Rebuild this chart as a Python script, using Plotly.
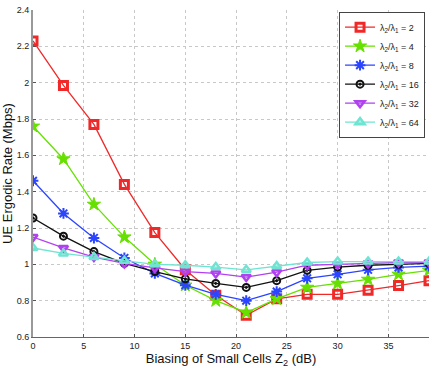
import plotly.graph_objects as go

# biasing values (dB)
z2 = [0, 3, 6, 9, 12, 15, 18, 21, 24, 27, 30, 33, 36, 39]

rate_l2 = [2.23, 1.985, 1.77, 1.44, 1.175, 0.97, 0.83, 0.72, 0.81, 0.835, 0.835, 0.857, 0.883, 0.91]
rate_l4 = [1.76, 1.58, 1.33, 1.15, 1.0, 0.885, 0.80, 0.735, 0.81, 0.873, 0.895, 0.917, 0.945, 0.967]
rate_l8 = [1.46, 1.28, 1.145, 1.035, 0.95, 0.885, 0.835, 0.80, 0.85, 0.923, 0.945, 0.97, 0.983, 0.99]
rate_l16 = [1.255, 1.155, 1.07, 1.005, 0.96, 0.92, 0.895, 0.873, 0.91, 0.967, 0.985, 0.995, 1.0, 1.005]
rate_l32 = [1.15, 1.09, 1.04, 1.005, 0.98, 0.96, 0.95, 0.93, 0.957, 0.995, 1.0, 1.005, 1.01, 1.01]
rate_l64 = [1.09, 1.06, 1.04, 1.02, 1.0, 0.995, 0.985, 0.97, 0.99, 1.01, 1.015, 1.015, 1.015, 1.015]

series = [
    ("2", rate_l2, "#f02828", "square-open", 8, 3),
    ("4", rate_l4, "#66e000", "star", 10, 1),
    ("8", rate_l8, "#2a44ff", "asterisk-open", 9, 2),
    ("16", rate_l16, "#111111", "circle-open-dot", 7, 2),
    ("32", rate_l32, "#b040f0", "triangle-down-open", 8, 2.5),
    ("64", rate_l64, "#6fe4d2", "triangle-up-open", 8, 2.5),
]

fig = go.Figure()
for lam, ys, col, sym, sz, lw in series:
    fig.add_scatter(
        x=z2, y=ys, mode="lines+markers",
        name=f"λ<sub>2</sub>/λ<sub>1</sub> = {lam}",
        line=dict(color=col, width=1.3),
        marker=dict(symbol=sym, size=sz, color=col, line=dict(color=col, width=lw)),
    )

font = "Liberation Sans, Arial, sans-serif"
fig.update_layout(
    width=436, height=368,
    margin=dict(l=33, r=7, t=10, b=31, autoexpand=False),
    paper_bgcolor="white", plot_bgcolor="white",
    font=dict(family=font, size=9, color="#222"),
    showlegend=True,
    legend=dict(
        x=0.99, y=0.995, xanchor="right", yanchor="top",
        bgcolor="white", bordercolor="#444", borderwidth=1,
        font=dict(size=9), tracegroupgap=0, itemwidth=30,
    ),
)
fig.update_xaxes(
    range=[0, 39], dtick=5, tick0=0, automargin=False,
    showgrid=True, gridcolor="#c8c8c8", griddash="dot", gridwidth=1,
    showline=True, linecolor="#666", linewidth=1,
    ticks="inside", ticklen=3, tickcolor="#555", zeroline=False,
    title=dict(text="Biasing of Small Cells Z<sub>2</sub> (dB)", font=dict(size=13, color="#111"), standoff=1),
)
fig.update_yaxes(
    range=[0.6, 2.4], dtick=0.2, tick0=0.6, automargin=False,
    showgrid=True, gridcolor="#c8c8c8", griddash="dot", gridwidth=1,
    showline=True, linecolor="#999", linewidth=2,
    ticks="inside", ticklen=3, tickcolor="#555", zeroline=False,
    title=dict(text="UE Ergodic Rate (Mbps)", font=dict(size=13, color="#111"), standoff=2),
)

# page body has a default 8px margin; drop it so the figure fills the window
fig.write_html("out.html", config={"displayModeBar": False},
               post_script="document.body.style.margin='0';")
